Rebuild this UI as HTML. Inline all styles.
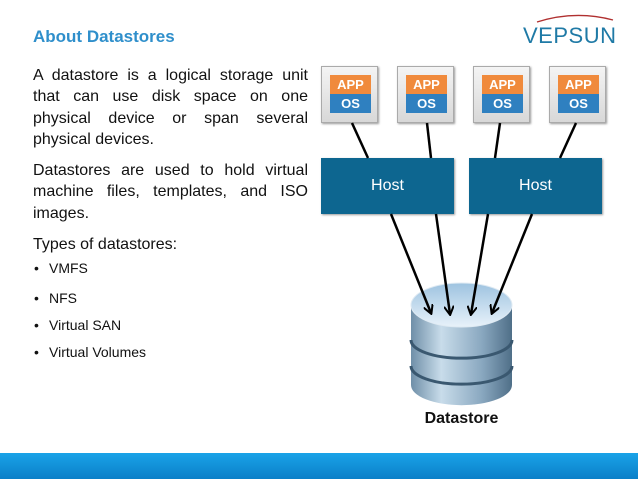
<!DOCTYPE html>
<html><head><style>
body{margin:0;width:638px;height:479px;background:#fff;position:relative;overflow:hidden;font-family:"Liberation Sans",sans-serif}
.a{position:absolute}
.p{left:33px;width:275px;font-size:16px;line-height:21.3px;color:#111;text-align:justify;text-align-last:left}
.b{left:34px;font-size:14px;color:#111;line-height:18px}
.b span{display:inline-block;width:15px}
.vm{width:55px;height:55px;background:linear-gradient(#f4f4f4,#d8d8d8);border:1px solid #aaa;box-shadow:1px 1px 2px #999}
.vm i{position:absolute;left:8px;width:41px;height:19px;font-style:normal;color:#fff;font-weight:bold;font-size:13px;text-align:center;line-height:19px}
.host{top:158px;height:56px;width:133px;background:#0d6690;color:#fff;font-size:16px;text-align:center;line-height:56px;box-shadow:1px 1px 2px #999}
</style></head><body>
<div class="a" style="left:33px;top:27px;font-size:17px;font-weight:bold;color:#2f8fcb">About Datastores</div>
<div class="a" style="left:523px;top:23px;font-size:22px;color:#1f7aa6;letter-spacing:0.5px">VEPSUN</div>
<svg class="a" style="left:535px;top:12px" width="80" height="12"><path d="M2 10 Q40 -2 78 8" stroke="#b03030" stroke-width="1.3" fill="none"/></svg>
<div class="a p" style="top:65px">A datastore is a logical storage unit that can use disk space on one physical device or span several physical devices.</div>
<div class="a p" style="top:160px">Datastores are used to hold virtual machine files, templates, and ISO images.</div>
<div class="a p" style="top:234px">Types of datastores:</div>
<div class="a b" style="top:259px"><span>•</span>VMFS</div>
<div class="a b" style="top:289px"><span>•</span>NFS</div>
<div class="a b" style="top:316px"><span>•</span>Virtual SAN</div>
<div class="a b" style="top:343px"><span>•</span>Virtual Volumes</div>

<div class="a vm" style="left:321px;top:66px"><i style="top:8px;background:#f08a3c">APP</i><i style="top:27px;background:#2f80c0">OS</i></div>
<div class="a vm" style="left:397px;top:66px"><i style="top:8px;background:#f08a3c">APP</i><i style="top:27px;background:#2f80c0">OS</i></div>
<div class="a vm" style="left:473px;top:66px"><i style="top:8px;background:#f08a3c">APP</i><i style="top:27px;background:#2f80c0">OS</i></div>
<div class="a vm" style="left:549px;top:66px"><i style="top:8px;background:#f08a3c">APP</i><i style="top:27px;background:#2f80c0">OS</i></div>
<div class="a host" style="left:321px">Host</div>
<div class="a host" style="left:469px">Host</div>

<svg class="a" style="left:0;top:0" width="638" height="479">
<defs>
<linearGradient id="g" x1="0" x2="1"><stop offset="0" stop-color="#6f8fa8"/><stop offset=".3" stop-color="#c8dcea"/><stop offset=".7" stop-color="#8aa8c0"/><stop offset="1" stop-color="#4f6f88"/></linearGradient>
<linearGradient id="t" x1="0" y1="0" x2="0" y2="1"><stop offset="0" stop-color="#9ec3e0"/><stop offset="1" stop-color="#e8f2fa"/></linearGradient>
<marker id="m" markerWidth="10" markerHeight="10" refX="8" refY="5" orient="auto" markerUnits="userSpaceOnUse"><path d="M0 0 L9 5 L0 10" fill="none" stroke="#000" stroke-width="2"/></marker>
</defs>
<g stroke="#000" stroke-width="2.5">
<line x1="352" y1="123" x2="368" y2="158"/><line x1="427" y1="123" x2="431" y2="158"/>
<line x1="500" y1="123" x2="495" y2="158"/><line x1="576" y1="123" x2="560" y2="158"/>
</g>
<path d="M411 305 V385 A50 20 0 0 0 512 385 V305 Z" fill="url(#g)"/>
<path d="M411 340 A50 18 0 0 0 512 340" stroke="#3a5870" stroke-width="3" fill="none"/>
<path d="M411 366 A50 18 0 0 0 512 366" stroke="#3a5870" stroke-width="3" fill="none"/>
<ellipse cx="461.5" cy="305" rx="50.5" ry="22" fill="url(#t)" stroke="#dfeaf3"/>
<g stroke="#000" stroke-width="2.5" marker-end="url(#m)">
<line x1="391" y1="214" x2="431" y2="313"/><line x1="436" y1="214" x2="450" y2="314"/>
<line x1="488" y1="214" x2="471" y2="314"/><line x1="532" y1="214" x2="492" y2="313"/>
</g>
</svg>
<div class="a" style="left:411px;top:410px;width:101px;text-align:center;font-weight:bold;font-size:16px;color:#111">Datastore</div>
<div class="a" style="left:0;top:453px;width:638px;height:26px;background:linear-gradient(#1aa3e8,#0a7fc8)"></div>
</body></html>
